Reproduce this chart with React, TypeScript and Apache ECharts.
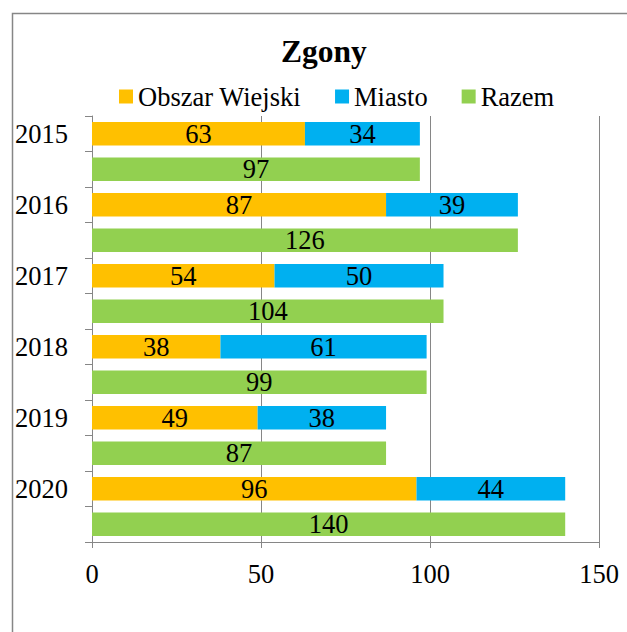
import React, { useEffect, useRef } from "react";
import * as echarts from "echarts";

const years = ["2015", "2016", "2017", "2018", "2019", "2020"];
const rural = [63, 87, 54, 38, 49, 96];
const city = [34, 39, 50, 61, 38, 44];
const total = [97, 126, 104, 99, 87, 140];
const seriesNames = ["Obszar Wiejski", "Miasto", "Razem"];
const colors = ["#FFC000", "#00B0F0", "#92D050"];
const xTicks = { min: 0, max: 150, interval: 50 };

const FONT = "Liberation Serif";
const FS = 26.5;

export default function App() {
  const ref = useRef<HTMLDivElement>(null);
  useEffect(() => {
    if (!ref.current) return;
    const chart = echarts.init(ref.current, undefined, { renderer: "svg" });
    const cats: string[] = [];
    years.forEach((y) => {
      cats.push(y);
      cats.push(y + "-razem");
    });
    const ruralData: (number | string)[] = [];
    const cityData: (number | string)[] = [];
    const totalData: (number | string)[] = [];
    years.forEach((_, i) => {
      ruralData.push(rural[i], "-");
      cityData.push(city[i], "-");
      totalData.push("-", total[i]);
    });
    const label = {
      show: true,
      position: "inside",
      color: "#000",
      fontFamily: FONT,
      fontSize: FS,
    };
    const mk = (name: string, data: (number | string)[], color: string) => ({
      name,
      type: "bar",
      stack: "all",
      barWidth: "66%",
      data,
      itemStyle: { color },
      label,
    });
    chart.setOption({
      animation: false,
      backgroundColor: "#fff",
      textStyle: { fontFamily: FONT },
      title: {
        text: "Zgony",
        left: 276,
        top: 30,
        textStyle: { fontFamily: FONT, fontSize: 31.5, fontWeight: "bold", color: "#000" },
      },
      legend: {
        left: 114,
        top: 78,
        icon: "rect",
        itemWidth: 14,
        itemHeight: 14,
        itemGap: 34,
        data: seriesNames,
        textStyle: { fontFamily: FONT, fontSize: FS, color: "#000", lineHeight: 26 },
      },
      grid: { left: 92, right: 28, top: 116, bottom: 90, containLabel: false },
      xAxis: {
        type: "value",
        min: xTicks.min,
        max: xTicks.max,
        interval: xTicks.interval,
        axisLine: { show: true, lineStyle: { color: "#868686", width: 1 } },
        axisTick: { show: true, length: 6, lineStyle: { color: "#868686" } },
        splitLine: { show: true, lineStyle: { color: "#868686", width: 1 } },
        axisLabel: { fontFamily: FONT, fontSize: FS, color: "#000", margin: 18 },
      },
      yAxis: {
        type: "category",
        inverse: true,
        data: cats,
        axisLine: { show: true, lineStyle: { color: "#868686", width: 1 } },
        axisTick: { show: true, length: 7, lineStyle: { color: "#868686" }, interval: 0 },
        axisLabel: {
          interval: 0,
          fontFamily: FONT,
          fontSize: FS,
          color: "#000",
          margin: 24,
          formatter: (v: string) => (v.endsWith("-razem") ? "" : v),
        },
      },
      graphic: [
        {
          type: "rect",
          shape: { x: 12.5, y: 13.5, width: 800, height: 800 },
          style: { fill: "none", stroke: "#868686", lineWidth: 1.5 },
          silent: true,
          z: -1,
        },
      ],
      series: [
        mk(seriesNames[0], ruralData, colors[0]),
        mk(seriesNames[1], cityData, colors[1]),
        mk(seriesNames[2], totalData, colors[2]),
      ],
    });
    return () => chart.dispose();
  }, []);
  return (
    <div
      ref={ref}
      style={{ position: "fixed", left: 0, top: 0, width: 627, height: 632 }}
    />
  );
}
